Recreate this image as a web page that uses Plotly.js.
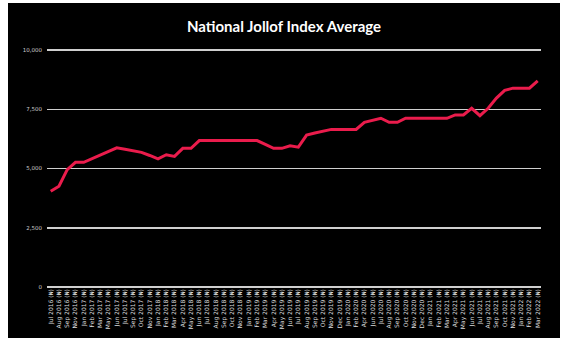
<!DOCTYPE html>
<html>
<head>
<meta charset="utf-8">
<script src="https://cdn.plot.ly/plotly-3.0.1.min.js"></script>
<style>
  html, body { margin: 0; padding: 0; background: #ffffff; }
  #chart { position: absolute; left: 8px; top: 3px; width: 552px; height: 335px; }
</style>
</head>
<body>
<div id="chart"></div>
<script>
const months = [
  "Jul 2016","Aug 2016","Sep 2016","Nov 2016","Jan 2017","Feb 2017","Mar 2017","May 2017","Jun 2017","Jul 2017",
  "Sep 2017","Oct 2017","Nov 2017","Jan 2018","Feb 2018","Mar 2018","Apr 2018","May 2018","Jun 2018","Jul 2018",
  "Aug 2018","Sep 2018","Oct 2018","Nov 2018","Jan 2019","Feb 2019","Mar 2019","Apr 2019","May 2019","Jun 2019",
  "Jul 2019","Aug 2019","Sep 2019","Oct 2019","Nov 2019","Dec 2019","Jan 2020","Feb 2020","Apr 2020","Jun 2020",
  "Jul 2020","Aug 2020","Sep 2020","Oct 2020","Nov 2020","Dec 2020","Jan 2021","Feb 2021","Mar 2021","Apr 2021",
  "May 2021","Jun 2021","Jul 2021","Aug 2021","Sep 2021","Oct 2021","Nov 2021","Jan 2022","Feb 2022","Mar 2022"
];
const tickLabels = months.map(m => m + " (₦)");
const jollofIndex = [
  4040, 4250, 4950, 5260, 5260, 5410, 5560, 5710, 5870, 5810,
  5750, 5680, 5550, 5410, 5580, 5510, 5850, 5850, 6180, 6180,
  6180, 6180, 6180, 6180, 6180, 6180, 6020, 5850, 5850, 5960,
  5900, 6410, 6500, 6580, 6650, 6650, 6650, 6650, 6950, 7030,
  7120, 6950, 6950, 7120, 7120, 7120, 7120, 7120, 7120, 7260,
  7260, 7540, 7230, 7540, 7970, 8300, 8390, 8390, 8390, 8700
];
const yTicks = [0, 2500, 5000, 7500, 10000];

const trace = {
  x: tickLabels,
  y: jollofIndex,
  type: 'scatter',
  mode: 'lines',
  line: { color: '#ea1c4c', width: 3 },
  hoverinfo: 'skip'
};

const layout = {
  width: 552,
  height: 335,
  paper_bgcolor: '#000000',
  plot_bgcolor: '#000000',
  margin: { l: 39, r: 19, t: 45, b: 51 },
  showlegend: false,
  title: {
    text: '<b>National Jollof Index Average</b>',
    x: 0.5, xref: 'container', xanchor: 'center',
    y: 0.93, yref: 'container', yanchor: 'middle',
    font: { family: 'Lato, "Noto Sans", sans-serif', size: 15, color: '#ffffff' }
  },
  xaxis: {
    type: 'category',
    range: [-0.45, 59.4],
    tickangle: -90,
    tickfont: { family: '"DejaVu Sans", sans-serif', size: 6, color: '#dddddd' },
    showgrid: false,
    showline: false,
    zeroline: false,
    ticks: '',
    ticklen: 0
  },
  yaxis: {
    range: [0, 10085],
    tickmode: 'array',
    tickvals: yTicks,
    ticktext: yTicks.map(v => v.toLocaleString('en-US')),
    tickfont: { family: '"DejaVu Sans", sans-serif', size: 5.5, color: '#cccccc' },
    showgrid: true,
    gridcolor: '#cfcfcf',
    gridwidth: 1.5,
    zeroline: true,
    zerolinecolor: '#cfcfcf',
    zerolinewidth: 1.5,
    showline: false,
    ticks: '',
    ticklabelstandoff: 4
  }
};

Plotly.newPlot('chart', [trace], layout, { staticPlot: true, displayModeBar: false });
</script>
</body>
</html>
